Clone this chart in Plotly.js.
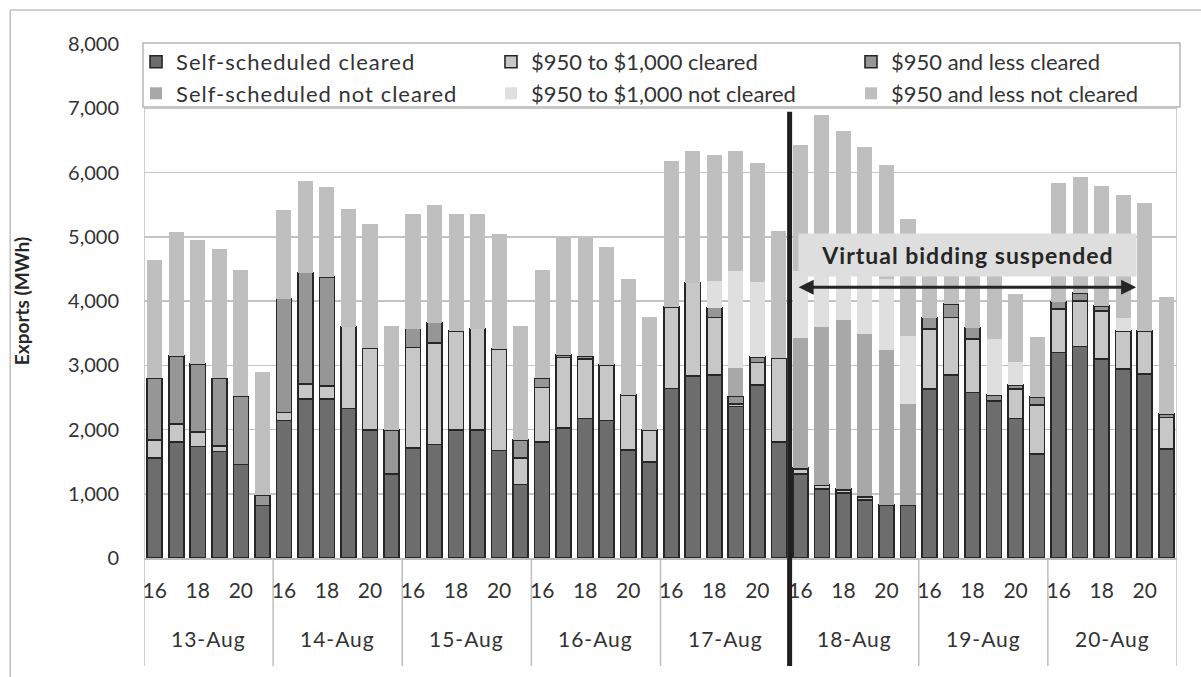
<!DOCTYPE html>
<html><head><meta charset="utf-8">
<script src="https://cdn.plot.ly/plotly-3.0.1.min.js"></script>
<style>
html,body{margin:0;padding:0;background:#fff}
.legendtext{letter-spacing:1px}
.annotation-text{letter-spacing:1px}
</style>
</head><body><div id="chart" style="width:1201px;height:677px"></div>
<script>
// ---- data (MWh), hours 16-21 for each day ----
const days = ['13-Aug','14-Aug','15-Aug','16-Aug','17-Aug','18-Aug','19-Aug','20-Aug'];
const hours = [16,17,18,19,20,21];
const hourTickLabels = [16,18,20];

const selfScheduledCleared = [
  1558,1801,1734,1656,1454,818,
  2138,2474,2474,2329,1993,1310,
  1708,1765,1993,1993,1672,1144,
  1801,2019,2174,2138,1682,1491,
  2640,2836,2847,2360,2692,1801,
  1310,1077,1009,906,828,828,
  2629,2847,2578,2448,2174,1620,
  3199,3292,3095,2940,2862,1698];
const cleared950to1000 = [
  279,285,223,83,null,null,
  129,233,207,1273,1268,null,
  1568,1579,1542,1578,1579,414,
  854,1102,921,864,859,502,
  1268,1450,895,40,351,1305,
  75,50,50,40,null,null,
  932,895,828,null,455,761,
  673,709,746,595,673,491];
const cleared950less = [
  958,1061,1061,1056,1062,155,
  1770,1734,1693,null,null,683,
  295,321,null,null,null,279,
  140,36,42,null,null,null,
  null,null,156,116,88,null,
  20,17,18,12,null,null,
  181,207,181,93,68,129,
  119,119,82,null,null,52];
const selfScheduledNotCleared = [
  null,null,null,null,null,null,
  null,null,null,null,null,null,
  null,null,null,null,null,null,
  null,null,null,null,null,null,
  null,null,null,434,null,null,
  2016,2453,2624,2525,2412,1568,
  null,null,null,null,null,null,
  null,null,null,null,null,null];
const notCleared950to1000 = [
  null,null,null,null,null,null,
  null,null,null,null,null,null,
  null,null,null,null,null,null,
  null,null,null,null,null,null,
  null,null,414,1517,1165,null,
  1046,850,750,900,1100,1061,
  null,null,null,865,346,null,
  null,null,null,207,null,null];
const notCleared950less = [
  1838,1925,1925,2019,1966,1926,
  1372,1423,1402,1833,1930,1620,
  1776,1827,1812,1776,1785,1776,
  1682,1838,1847,1843,1807,1765,
  2277,2054,1966,1863,1853,1982,
  1967,2453,2190,2009,1773,1823,
  858,751,913,1009,1062,937,
  1848,1812,1874,1905,1993,1827];

const seriesNames = ['Self-scheduled cleared','$950 to $1,000 cleared','$950 and less cleared',
  'Self-scheduled not cleared','$950 to $1,000 not cleared','$950 and less not cleared'];
const seriesValues = [selfScheduledCleared, cleared950to1000, cleared950less,
  selfScheduledNotCleared, notCleared950to1000, notCleared950less];

// ---- styles ----
const fills = ['#6d6d6d','#c7c7c7','#969696','#a8a8a8','#dfdfdf','#bfbfbf'];
const outlined = [true,true,true,false,false,false];
const legendIds = ['legend','legend2','legend3','legend','legend2','legend3'];

const cats = [];
days.forEach(d => hours.forEach(h => cats.push(d + ' ' + h)));
const tickVals = [], tickText = [];
days.forEach(d => hourTickLabels.forEach(h => { tickVals.push(d + ' ' + h); tickText.push(String(h)); }));

const FONT = 'Lato, "Open Sans", sans-serif';
const TXT = '#333333';
const traces = seriesValues.map((vals, i) => ({
  type: 'bar', name: seriesNames[i], x: cats, y: vals, legend: legendIds[i],
  marker: { color: fills[i], line: { color: outlined[i] ? '#262626' : 'rgba(0,0,0,0)', width: outlined[i] ? 1.6 : 0 } },
  hoverinfo: 'skip'
}));

const nH = hours.length;
const shapes = [];
for (let k = 0; k <= days.length; k++) {
  const edge = (k === 0 || k === days.length);
  shapes.push({ type: 'line', xref: 'x', yref: 'paper', x0: k*nH - 0.5, x1: k*nH - 0.5,
    y0: -0.21, y1: edge ? 1 : 0, line: { color: '#bdbdbd', width: 1.5 }, layer: 'below' });
}
const suspendIdx = days.indexOf('18-Aug') * nH - 0.5;
shapes.push({ type: 'line', xref: 'x', yref: 'paper', x0: suspendIdx, x1: suspendIdx,
  y0: -0.21, y1: 0.868, line: { color: '#1f1f1f', width: 5 } });
// legend frame
shapes.push({ type: 'rect', xref: 'paper', yref: 'paper', x0: -0.001, x1: 1.0029, y0: 0.8775, y1: 1.002,
  fillcolor: '#ffffff', line: { color: '#b5b5b5', width: 1.5 }, layer: 'above' });
// outer frame (top + left)
shapes.push({ type: 'line', xref: 'paper', yref: 'paper', x0: -0.1295, x1: 1.05, y0: 1.066, y1: 1.066, line: { color: '#c0c0c0', width: 1.5 } });
shapes.push({ type: 'line', xref: 'paper', yref: 'paper', x0: -0.1295, x1: -0.1295, y0: 1.066, y1: -0.3, line: { color: '#c0c0c0', width: 1.5 } });

const annotations = days.map((d, k) => ({
  xref: 'x', yref: 'paper', x: k*nH + (nH-1)/2, y: -0.157, text: d, showarrow: false,
  yanchor: 'middle', font: { family: FONT, size: 21, color: TXT }
}));
annotations.push({
  xref: 'x', yref: 'y', x: 37.77, y: 4710, text: '<b>Virtual bidding suspended</b>', showarrow: false,
  bgcolor: '#dedede', width: 335, height: 40, font: { family: FONT, size: 23, color: '#262626' }
});
annotations.push({
  xref: 'x', yref: 'y', axref: 'x', ayref: 'y', x: 45.6, y: 4213, ax: 29.85, ay: 4213, text: '',
  showarrow: true, arrowhead: 2, arrowside: 'end+start', arrowwidth: 3, arrowsize: 1, arrowcolor: '#262626', standoff: 0, startstandoff: 0
});

const legendBase = { orientation: 'v', y: 1.006, xanchor: 'left', yanchor: 'top', traceorder: 'normal',
  bgcolor: 'rgba(0,0,0,0)', borderwidth: 0, font: { family: FONT, size: 22, color: TXT } };

const layout = {
  width: 1201, height: 677,
  margin: { l: 144, r: 24, t: 44, b: 119 },
  paper_bgcolor: '#ffffff', plot_bgcolor: '#ffffff',
  barmode: 'stack', bargap: 0.3,
  font: { family: FONT, size: 20, color: TXT },
  showlegend: true,
  legend: Object.assign({}, legendBase, { x: -0.0077 }),
  legend2: Object.assign({}, legendBase, { x: 0.3359 }),
  legend3: Object.assign({}, legendBase, { x: 0.6844 }),
  xaxis: { type: 'category', categoryorder: 'array', categoryarray: cats, tickmode: 'array',
    tickvals: tickVals, ticktext: tickText, ticks: '', showgrid: false, showline: true,
    linecolor: '#bdbdbd', linewidth: 1.5, ticklabelstandoff: 13, tickangle: 0,
    tickfont: { family: FONT, size: 21, color: TXT }, range: [-0.5, cats.length - 0.5], fixedrange: true },
  yaxis: { range: [0, 8000], dtick: 1000, tickformat: ',d', showgrid: true, gridcolor: '#c4c4c4', gridwidth: 1.5,
    zeroline: false, showline: false, ticks: '', ticklabelstandoff: 24,
    tickfont: { family: FONT, size: 20, color: TXT },
    title: { text: '<b>Exports (MWh)</b>', standoff: 33, font: { family: FONT, size: 19, color: '#262626' } } },
  shapes: shapes, annotations: annotations
};

Plotly.newPlot('chart', traces, layout, { staticPlot: true, displayModeBar: false });
</script></body></html>
